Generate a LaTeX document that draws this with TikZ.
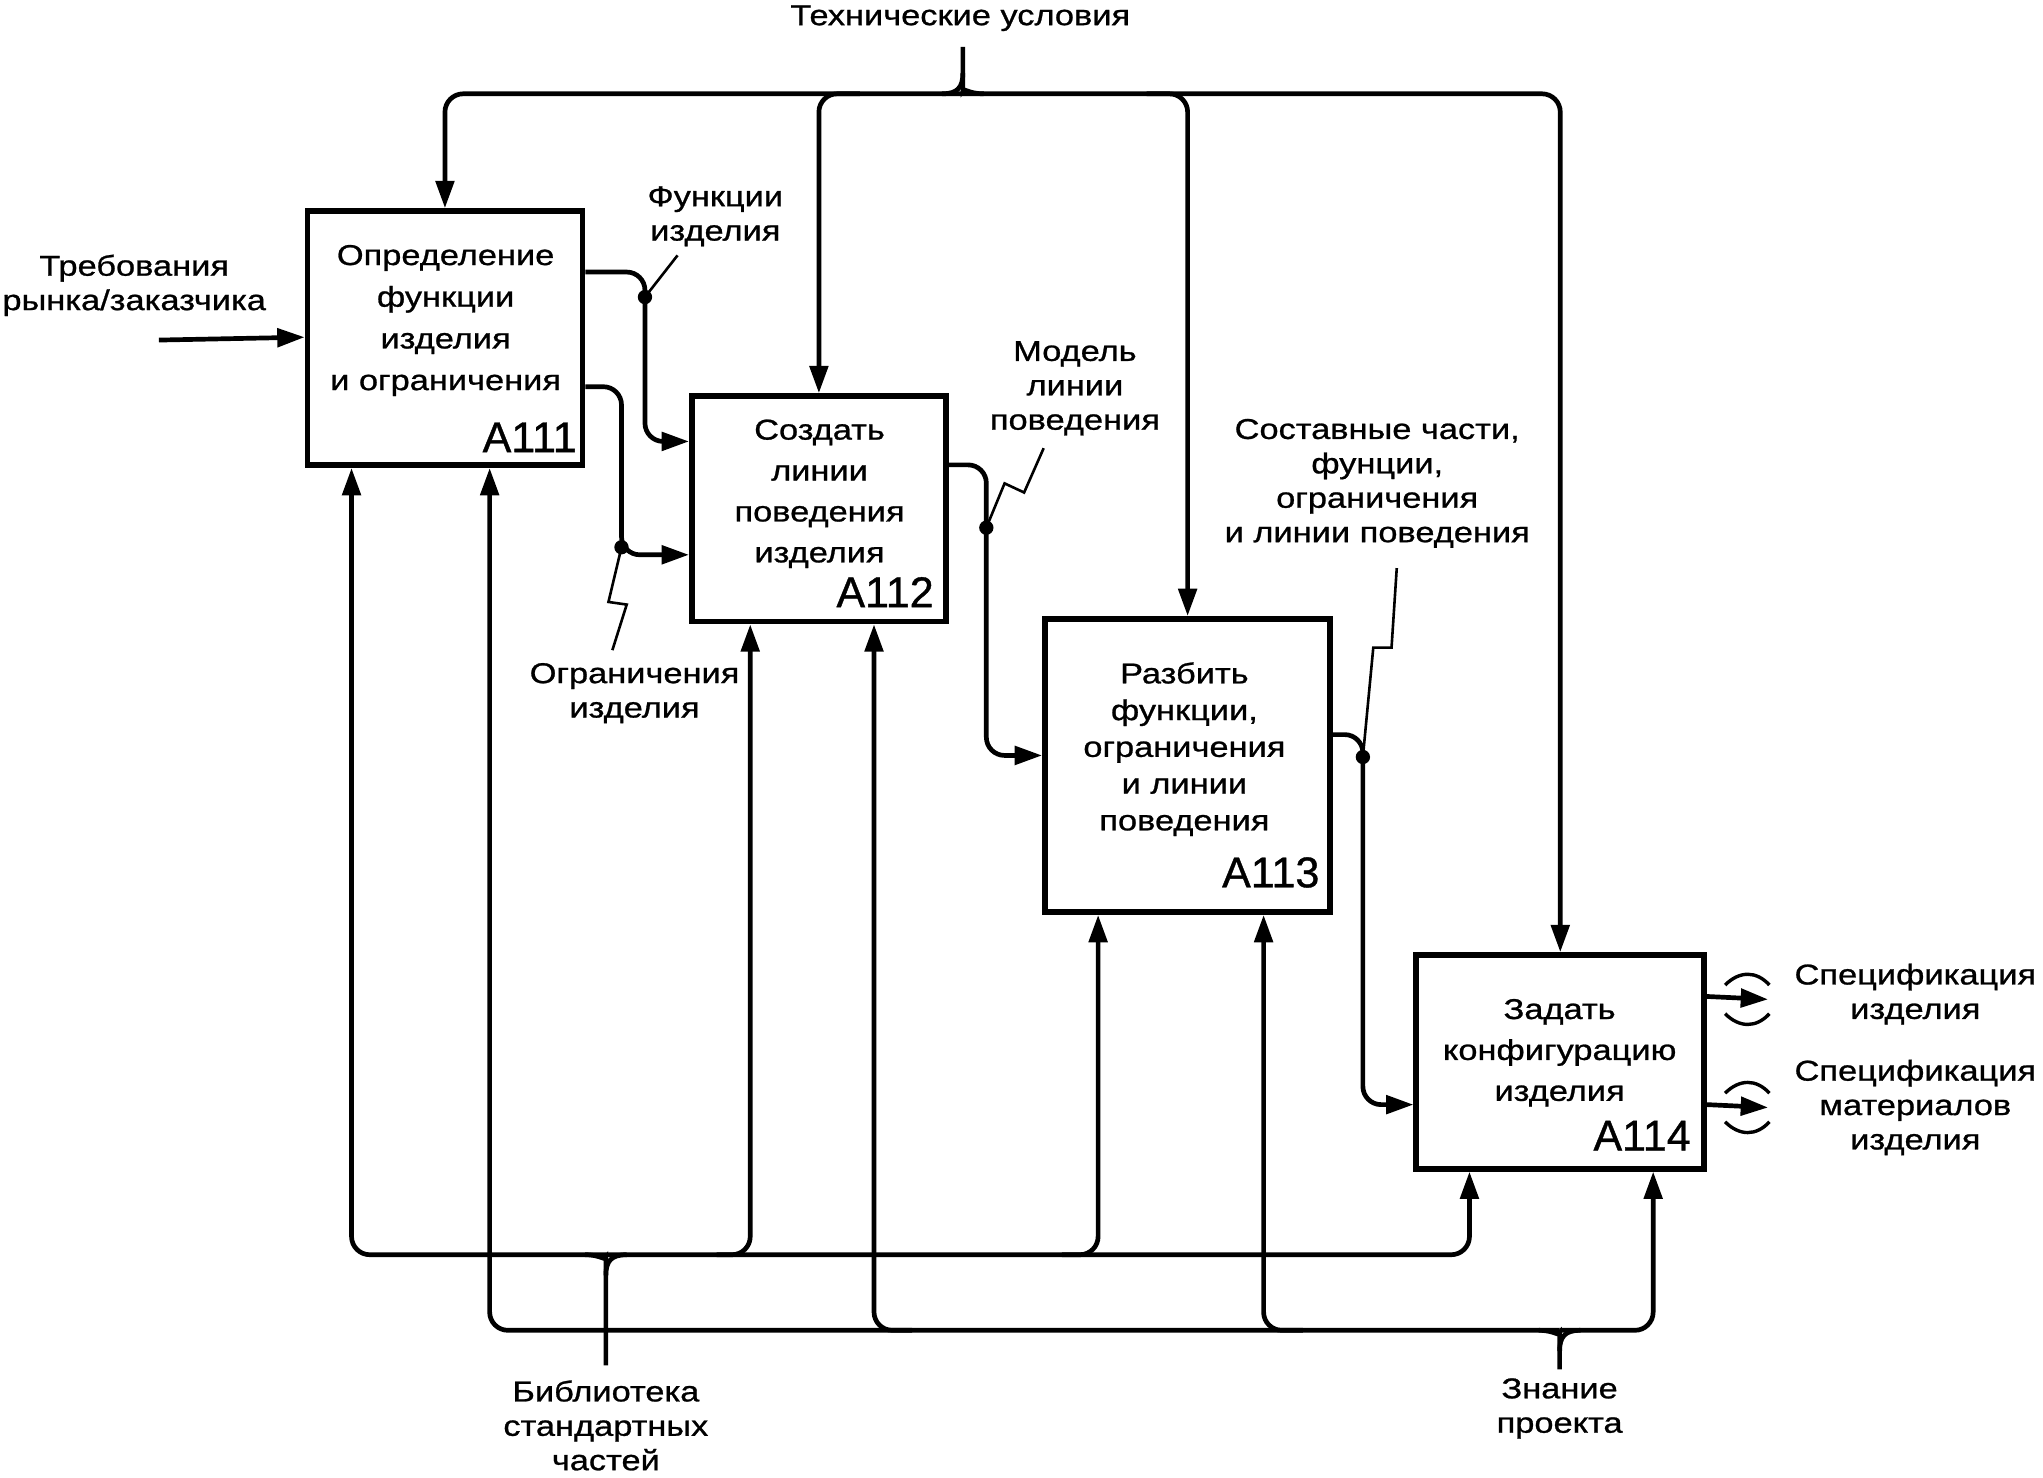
\documentclass[tikz,border=0pt]{standalone}
\usepackage{fontspec}
\setmainfont[FakeStretch=1.2,FakeBold=0.9]{Liberation Sans}
\newfontfamily\idfont[FakeBold=0.9]{Liberation Sans}
\usetikzlibrary{arrows.meta}
\begin{document}
\begin{tikzpicture}[x=0.5pt,y=-0.5pt,
  box/.style={draw,line width=2.2pt,inner sep=0pt},
  flow/.style={line width=1.8pt,rounded corners=7pt},
  arr/.style={-{Triangle[length=10.5pt,width=7pt]}},
  lead/.style={line width=1pt},
  lbl/.style={align=center,inner sep=0pt,font=\fontsize{11}{13.2}\selectfont},
  btxt/.style={align=center,inner sep=0pt,font=\fontsize{11}{#1}\selectfont},
  idt/.style={inner sep=0pt,anchor=base east,font=\idfont\fontsize{16.5}{16.5}\selectfont},
  jdot/.style={circle,fill,inner sep=0pt,minimum size=5.5pt},
  tun/.style={line width=1.3pt}
]
\useasboundingbox (0,0) rectangle (1568,1134);

% boxes
\node[box,minimum width=105.5pt,minimum height=97.5pt] (A111) at (341.5,259.5) {};
\node[box,minimum width=97.5pt,minimum height=86.5pt] (A112) at (628.5,390.5) {};
\node[box,minimum width=109.5pt,minimum height=112.5pt] (A113) at (911.5,587.5) {};
\node[box,minimum width=110.5pt,minimum height=82pt] (A114) at (1197.5,815) {};

% box texts
\node[btxt=16pt] (T111) at (342,246) {Определение\\функции\\изделия\\и ограничения};
\node[btxt=15.7pt] (T112) at (629,379) {Создать\\линии\\поведения\\изделия};
\node[btxt=14.1pt] (T113) at (909,575) {Разбить\\функции,\\ограничения\\и линии\\поведения};
\node[btxt=15.7pt] (T114) at (1197,808) {Задать\\конфигурацию\\изделия};
\node[idt] (I111) at (443,347) {A111};
\node[idt] (I112) at (717,466) {A112};
\node[idt] (I113) at (1013,681) {A113};
\node[idt] (I114) at (1298,883) {A114};

% labels
\node[lbl] (lTop) at (737,14) {Технические условия};
\node[lbl] (lIn) at (103,219) {Требования\\рынка/заказчика};
\node[lbl] (lFunc) at (549,166) {Функции\\изделия};
\node[lbl] (lModel) at (825,298) {Модель\\линии\\поведения};
\node[lbl] (lOgr) at (487,532) {Ограничения\\изделия};
\node[lbl] (lSost) at (1057,371) {Составные части,\\фунции,\\ограничения\\и линии поведения};
\node[lbl] (lSpec1) at (1470,763) {Спецификация\\изделия};
\node[lbl] (lSpec2) at (1470,850) {Спецификация\\материалов\\изделия};
\node[lbl] (lLib) at (465,1094) {Библиотека\\стандартных\\частей};
\node[lbl] (lZn) at (1197,1081) {Знание\\проекта};

% port coordinates
\coordinate (i111) at ([yshift=-49.5pt]A111.north west);
\coordinate (i112a) at ([yshift=-18.5pt]A112.north west);
\coordinate (i112b) at ([yshift=-62pt]A112.north west);
\coordinate (i113) at ([yshift=-53.5pt]A113.north west);
\coordinate (i114) at ([yshift=-58.5pt]A114.north west);
\coordinate (o111a) at ([yshift=-24.5pt]A111.north east);
\coordinate (o111b) at ([yshift=-68.5pt]A111.north east);
\coordinate (o112) at ([yshift=-27.5pt]A112.north east);
\coordinate (o113) at ([yshift=-45.5pt]A113.north east);
\coordinate (o114a) at ([yshift=-17pt]A114.north east);
\coordinate (o114b) at ([yshift=-58.5pt]A114.north east);
\coordinate (b111a) at ([xshift=18pt]A111.south west);
\coordinate (b111b) at ([xshift=71pt]A111.south west);
\coordinate (b112a) at ([xshift=23.5pt]A112.south west);
\coordinate (b112b) at ([xshift=71pt]A112.south west);
\coordinate (b113a) at ([xshift=21.5pt]A113.south west);
\coordinate (b113b) at ([xshift=85pt]A113.south west);
\coordinate (b114a) at ([xshift=21.5pt]A114.south west);
\coordinate (b114b) at ([xshift=92pt]A114.south west);

% junctions
\coordinate (j1) at (495,228);
\coordinate (j2) at (477,420);
\coordinate (j3) at (757,405);
\coordinate (j4) at (1046,581);

% free ends
\coordinate (inStart) at (122,261);
\coordinate (sTop) at (739,36);
\coordinate (hTop) at (739,72);
\coordinate (sLib) at (465,1048);
\coordinate (hLib) at (465,963);
\coordinate (sZn) at (1197,1048);
\coordinate (hZn) at (1197,1021);
\coordinate (out1) at (1357,767);
\coordinate (out2) at (1357,850);

% input
\draw[flow,arr] (inStart) -- (i111);

% top control bracket
\draw[flow,arr] (hTop) -| (A111.north);
\draw[flow,arr] (hTop) -| (A114.north);
\draw[flow,arr] (660,72) -| (A112.north);
\draw[flow,arr] (880,72) -| (A113.north);
\draw[flow] (sTop) -- (739,56) .. controls (739,67) and (743,72) .. (755,72);
\draw[flow] (739,56) .. controls (739,67) and (735,72) .. (723,72);

% internal flows
\draw[flow,arr] (o111a) -| (j1 |- i112a) -- (i112a);
\draw[flow,arr] (o111b) -| (j2 |- i112b) -- (i112b);
\draw[flow,arr] (o112) -| (j3 |- i113) -- (i113);
\draw[flow,arr] (o113) -| (j4 |- i114) -- (i114);
\foreach \j in {j1,j2,j3,j4} \node[jdot] at (\j) {};

% leaders
\draw[lead] (j1) -- (520,196);
\draw[lead] (j2) -- (467,462) -- (481,464) -- (470,499);
\draw[lead] (j3) -- (771,371) -- (786,378) -- (801,344);
\draw[lead] (j4) -- (1054,497) -- (1068,497) -- (1072,436);

% outputs
\draw[flow,arr] (o114a) -- (out1);
\draw[flow,arr] (o114b) -- (out2);
\draw[tun] (1324,756) .. controls (1335,745) and (1348,745) .. (1358,756);
\draw[tun] (1324,778) .. controls (1335,789) and (1348,789) .. (1358,778);
\draw[tun] (1324,839) .. controls (1335,828) and (1348,828) .. (1358,839);
\draw[tun] (1324,861) .. controls (1335,872) and (1348,872) .. (1358,861);

% bottom bracket: library
\draw[flow,arr] (hLib) -| (b111a);
\draw[flow,arr] (hLib) -| (b114a);
\draw[flow,arr] (550,963) -| (b112a);
\draw[flow,arr] (815,963) -| (b113a);
\draw[flow] (sLib) -- (465,979) .. controls (465,968) and (461,963) .. (449,963);
\draw[flow] (465,979) .. controls (465,968) and (469,963) .. (481,963);

% bottom bracket: project knowledge
\draw[flow,arr] (hZn) -| (b111b);
\draw[flow,arr] (hZn) -| (b114b);
\draw[flow,arr] (700,1021) -| (b112b);
\draw[flow,arr] (1000,1021) -| (b113b);
\draw[flow] (sZn) -- (1197,1037) .. controls (1197,1026) and (1193,1021) .. (1181,1021);
\draw[flow] (1197,1037) .. controls (1197,1026) and (1201,1021) .. (1213,1021);
\end{tikzpicture}
\end{document}
